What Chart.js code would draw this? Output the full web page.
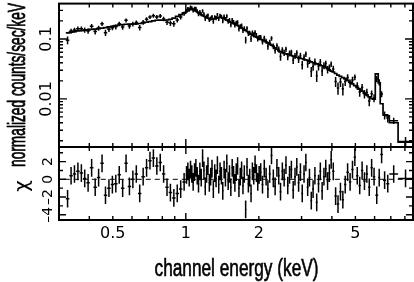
<!DOCTYPE html>
<html><head><meta charset="utf-8">
<script src="https://cdn.jsdelivr.net/npm/chart.js@4.4.1/dist/chart.umd.min.js"></script>
<style>
html,body{margin:0;padding:0;background:#fff;}
#wrap{position:relative;width:414px;height:282px;overflow:hidden;}
canvas{position:absolute;left:0;top:0;}
</style></head><body>
<div id="wrap"><canvas id="topc" width="414" height="282"></canvas><canvas id="botc" width="414" height="282"></canvas></div>
<script>
// ---- data ----
const binEdges = [
0.320,0.331,0.342,0.353,0.365,0.377,0.389,0.402,0.416,0.430,
0.444,0.459,0.474,0.490,0.506,0.523,0.540,0.558,0.576,0.595,
0.615,0.635,0.656,0.678,0.700,0.723,0.747,0.772,0.797,0.823,
0.850,0.878,0.907,0.937,0.968,1.000,
1.013,1.026,1.039,1.052,1.065,1.079,1.093,1.107,1.121,1.135,
1.150,1.165,1.180,1.195,1.210,1.226,1.242,1.258,1.274,1.290,
1.307,1.324,1.341,1.358,1.375,1.393,1.411,1.429,1.447,1.466,
1.485,1.504,1.523,1.543,1.563,1.583,1.603,1.624,1.645,1.666,
1.687,1.709,1.731,1.753,1.776,1.799,1.822,1.845,1.869,1.893,
1.917,1.942,1.967,1.992,2.018,
2.053,2.088,2.124,2.161,2.198,2.236,2.275,2.314,2.354,2.395,
2.436,2.478,2.521,2.565,2.609,2.654,2.700,2.747,2.795,2.843,
2.892,2.942,2.993,3.045,3.098,3.152,3.206,3.262,3.318,3.376,
3.434,3.494,3.554,3.616,3.678,3.742,3.807,3.873,3.940,4.008,
4.10,4.19,4.29,4.39,4.49,4.59,4.70,4.81,4.92,5.03,
5.15,5.27,5.39,5.51,5.64,5.77,5.90,6.04,6.21,6.33,
6.50,6.70,6.90,7.50,8.64];

const modelFlux = [
0.126,0.130,0.133,0.136,0.138,0.140,0.142,0.144,0.146,0.149,
0.152,0.155,0.159,0.163,0.167,0.171,0.174,0.176,0.177,0.177,
0.178,0.181,0.185,0.190,0.195,0.201,0.205,0.206,0.205,0.207,
0.213,0.222,0.238,0.255,0.272,
0.285,0.296,0.305,0.310,0.311,0.307,0.300,0.291,0.282,0.272,
0.263,0.255,0.247,0.240,0.233,0.227,0.222,0.217,0.214,0.214,
0.216,0.219,0.222,0.225,0.228,0.229,0.228,0.224,0.219,0.213,
0.207,0.201,0.195,0.190,0.186,0.182,0.178,0.173,0.168,0.163,
0.158,0.153,0.148,0.143,0.139,0.134,0.129,0.124,0.120,0.116,
0.113,0.110,0.107,0.104,0.101,
0.0985,0.0960,0.0930,0.0895,0.0860,0.0825,0.0790,0.0750,0.0710,0.0675,
0.0640,0.0610,0.0590,0.0575,0.0565,0.0555,0.0545,0.0530,0.0518,0.0506,
0.0495,0.0485,0.0476,0.0467,0.0458,0.0448,0.0438,0.0427,0.0416,0.0405,
0.0394,0.0384,0.0375,0.0366,0.0356,0.0345,0.0332,0.0318,0.0304,0.0291,
0.0281,0.0265,0.0250,0.0237,0.0226,0.0215,0.0203,0.0190,0.0178,0.0167,
0.0156,0.0145,0.0134,0.0125,0.0117,0.0108,0.0101,0.0099,0.0262,0.0185,
0.0083,0.0054,0.0052,0.0040,0.0019];

const chiResid = [
-2.2,0.4,0.6,0.9,0.7,0.1,-0.4,1.3,-0.9,0.2,
1.8,-1.8,-1.0,-0.6,-0.5,0.5,-1.0,1.8,-0.8,0.0,
0.6,-1.6,0.3,1.3,2.1,2.4,1.5,1.9,0.6,-0.9,
-1.5,-2.1,-1.6,-1.1,-0.3,
0.5,0.9,0.2,1.1,0.6,-0.3,0.8,1.3,0.4,-0.5,
0.9,0.2,2.4,1.0,-0.8,0.6,1.5,-0.4,0.3,1.2,
-1.1,0.7,0.1,1.6,-0.6,0.9,0.4,-1.3,1.1,0.2,
1.8,-0.2,0.6,-0.9,1.3,0.5,-0.4,0.8,1.5,-1.0,
0.3,1.0,-0.7,0.6,-3.4,1.4,-0.5,0.2,-1.6,0.9,
0.4,1.7,0.7,-0.3,0.5,
0.8,-0.6,1.2,0.3,-1.1,0.6,2.7,0.1,-0.8,1.3,
0.4,-1.4,0.9,0.2,1.6,-0.7,0.5,1.1,-1.2,0.3,
1.4,-0.4,0.8,-1.6,0.6,1.9,-0.9,0.2,-2.4,-1.1,
0.4,-2.6,-0.5,0.9,-1.3,0.3,1.2,-0.2,0.7,2.2,
0.9,-1.9,-2.8,-1.4,-2.3,-0.6,0.8,-0.3,1.1,2.5,
0.4,-0.7,1.0,-0.2,0.6,-0.9,1.3,0.3,-1.8,0.2,
2.8,-0.1,-0.5,0.6,0.1];

const relErrPct = [
11,10,10,10,10,10,10,10,10,10,
10,10,9,9,9,9,9,9,9,9,
9,9,9,9,9,9,9,9,9,9,
9,9,8,8,8,
8,8,8,8,8,8,8,8,8,8,
8,8,8,8,8,8,8,8,8,8,
8,8,8,8,8,8,8,8,8,8,
9,9,9,9,9,9,9,9,9,9,
9,9,9,9,9,9,9,9,10,10,
10,10,10,10,10,
10,10,10,10,11,11,11,11,11,11,
12,12,12,12,12,12,12,12,12,12,
13,13,13,13,13,13,13,13,13,13,
14,14,14,14,14,14,14,14,14,14,
14,14,14,14,15,15,15,15,15,15,
15,15,16,16,16,16,16,16,10,12,
16,15,15,13,20];

const xRange = [0.317, 8.64];
const yTopRange = [0.001574, 0.389];
const residRange = [-4.6, 3.65];
const xTickLabels = [0.5, 1, 2, 5];
const xMajorTicks = [1];
const xMinorTicks = [0.4, 0.5, 0.6, 0.7, 0.8, 0.9, 2, 3, 4, 5, 6, 7, 8];
const yTopTickLabels = [0.01, 0.1];
const yTopMinorTicks = [0.002,0.003,0.004,0.005,0.006,0.007,0.008,0.009,0.02,0.03,0.04,0.05,0.06,0.07,0.08,0.09,0.2,0.3];
const residTickLabels = [-4, -2, 0, 2];
const residMinorTicks = [-3, -1, 1, 3];
const xTitle = 'channel energy (keV)';
const yTopTitle = 'normalized counts/sec/keV';
const yResidTitle = 'χ';

// ---- derived series ----
const N = modelFlux.length;
const binCenter = [], dataFlux = [], dataSigma = [];
for (let i = 0; i < N; i++) {
  binCenter.push(Math.sqrt(binEdges[i] * binEdges[i + 1]));
  const s = modelFlux[i] * relErrPct[i] / 100;
  dataSigma.push(s);
  dataFlux.push(modelFlux[i] + chiResid[i] * s);
}
function hBars(yv) {
  const out = [];
  for (let i = 0; i < N; i++) {
    out.push({x: binEdges[i], y: yv[i]}, {x: binEdges[i + 1], y: yv[i]}, {x: binEdges[i + 1], y: null});
  }
  return out;
}
function vBars(lo, hi) {
  const out = [];
  for (let i = 0; i < N; i++) {
    out.push({x: binCenter[i], y: lo[i]}, {x: binCenter[i], y: hi[i]}, {x: binCenter[i], y: null});
  }
  return out;
}
const modelStep = modelFlux.map((m, i) => ({x: binEdges[i], y: m}));
modelStep.push({x: binEdges[N], y: modelFlux[N - 1]});

const FONT = "'DejaVu Sans', sans-serif";

const framePlugin = {
  id: 'pgframe',
  afterDatasetsDraw(chart, args, o) {
    const {ctx, chartArea: a} = chart;
    const xs = chart.scales.x, ys = chart.scales.y;
    ctx.save();
    ctx.strokeStyle = '#000';
    ctx.lineWidth = 1.4;
    ctx.beginPath();
    const xt = (vals, len) => vals.forEach(v => {
      const p = xs.getPixelForValue(v);
      ctx.moveTo(p, a.bottom); ctx.lineTo(p, a.bottom - len);
      ctx.moveTo(p, a.top); ctx.lineTo(p, a.top + len);
    });
    const yt = (vals, len) => vals.forEach(v => {
      const p = ys.getPixelForValue(v);
      ctx.moveTo(a.left, p); ctx.lineTo(a.left + len, p);
      ctx.moveTo(a.right, p); ctx.lineTo(a.right - len, p);
    });
    xt(o.xMajor, o.major); xt(o.xMinor, o.minor);
    yt(o.yMajor, o.major); yt(o.yMinor, o.minor);
    ctx.stroke();
    ctx.lineWidth = 2;
    ctx.strokeRect(a.left, a.top, a.right - a.left, a.bottom - a.top);
    ctx.restore();
  }
};

const titlePlugin = {
  id: 'pgtitles',
  afterDraw(chart, args, o) {
    const ctx = chart.ctx;
    (o.items || []).forEach(t => {
      ctx.save();
      ctx.translate(t.x, t.y);
      ctx.rotate(t.rot || 0);
      ctx.font = t.size + 'px ' + t.family;
      ctx.fillStyle = '#000';
      ctx.strokeStyle = '#000';
      ctx.textAlign = 'center';
      ctx.textBaseline = 'alphabetic';
      if (t.len) { const w = ctx.measureText(t.text).width; ctx.scale(t.len / w, 1); }
      ctx.fillText(t.text, 0, 0);
      if (t.stroke) { ctx.lineWidth = t.stroke; ctx.strokeText(t.text, 0, 0); }
      ctx.restore();
    });
  }
};

const lineDs = (data, w, extra) => Object.assign({data, borderColor: '#000', borderWidth: w, pointRadius: 0, fill: false, spanGaps: false, tension: 0}, extra || {});

new Chart(document.getElementById('topc'), {
  type: 'line',
  data: {datasets: [
    lineDs(modelStep, 1.7, {stepped: true}),
    lineDs(hBars(dataFlux), 1.5),
    lineDs(vBars(dataFlux.map((f, i) => f - dataSigma[i]), dataFlux.map((f, i) => f + dataSigma[i])), 1.5)
  ]},
  options: {
    responsive: false, animation: false, events: [],
    layout: {padding: {left: 0, right: 1, top: 1, bottom: 135}},
    plugins: {
      legend: {display: false}, tooltip: {enabled: false},
      pgframe: {xMajor: xMajorTicks, xMinor: xMinorTicks, yMajor: yTopTickLabels, yMinor: yTopMinorTicks, major: 8, minor: 4},
      pgtitles: {items: [{text: yTopTitle, x: 25, y: 85, rot: -Math.PI / 2, size: 23, family: "'Liberation Sans', sans-serif", len: 164, stroke: 0.8}]}
    },
    scales: {
      x: {type: 'logarithmic', min: xRange[0], max: xRange[1], display: false},
      y: {type: 'logarithmic', min: yTopRange[0], max: yTopRange[1], position: 'left',
        afterBuildTicks: s => { s.ticks = yTopTickLabels.map(v => ({value: v})); },
        afterFit: s => { s.width = 59; },
        grid: {display: false, drawTicks: false}, border: {display: false},
        ticks: {callback: v => String(v), font: {family: FONT, size: 16}, color: '#000', minRotation: 90, maxRotation: 90, crossAlign: 'center', padding: -6, autoSkip: false}
      }
    }
  },
  plugins: [framePlugin, titlePlugin]
});

new Chart(document.getElementById('botc'), {
  type: 'line',
  data: {datasets: [
    lineDs([{x: xRange[0], y: 0}, {x: xRange[1], y: 0}], 1, {borderDash: [5, 4]}),
    lineDs(hBars(chiResid), 1.5),
    lineDs(vBars(chiResid.map(c => c - 1), chiResid.map(c => c + 1)), 1.5)
  ]},
  options: {
    responsive: false, animation: false, events: [],
    layout: {padding: {left: 0, right: 1, top: 147, bottom: 0}},
    plugins: {
      legend: {display: false}, tooltip: {enabled: false},
      pgframe: {xMajor: xMajorTicks, xMinor: xMinorTicks, yMajor: residTickLabels, yMinor: residMinorTicks, major: 7, minor: 4},
      pgtitles: {items: [
        {text: xTitle, x: 236.5, y: 276, rot: 0, size: 23, family: "'Liberation Sans', sans-serif", len: 164, stroke: 0.6},
        {text: yResidTitle, x: 28, y: 186, rot: -Math.PI / 2, size: 20, family: FONT}
      ]}
    },
    scales: {
      x: {type: 'logarithmic', min: xRange[0], max: xRange[1], position: 'bottom',
        afterBuildTicks: s => { s.ticks = xTickLabels.map(v => ({value: v})); },
        afterFit: s => { s.height = 62; },
        grid: {display: false, drawTicks: false}, border: {display: false},
        ticks: {callback: v => String(v), font: {family: FONT, size: 16}, color: '#000', padding: 4, minRotation: 0, maxRotation: 0, autoSkip: false}
      },
      y: {type: 'linear', min: residRange[0], max: residRange[1], position: 'left',
        afterBuildTicks: s => { s.ticks = residTickLabels.map(v => ({value: v})); },
        afterFit: s => { s.width = 59; },
        grid: {display: false, drawTicks: false}, border: {display: false},
        ticks: {callback: v => (v < 0 ? '\u2013' + Math.abs(v) : String(v)), font: {family: FONT, size: 14}, color: '#000', minRotation: 90, maxRotation: 90, crossAlign: 'center', padding: 3, autoSkip: false}
      }
    }
  },
  plugins: [framePlugin, titlePlugin]
});
</script>
</body></html>
